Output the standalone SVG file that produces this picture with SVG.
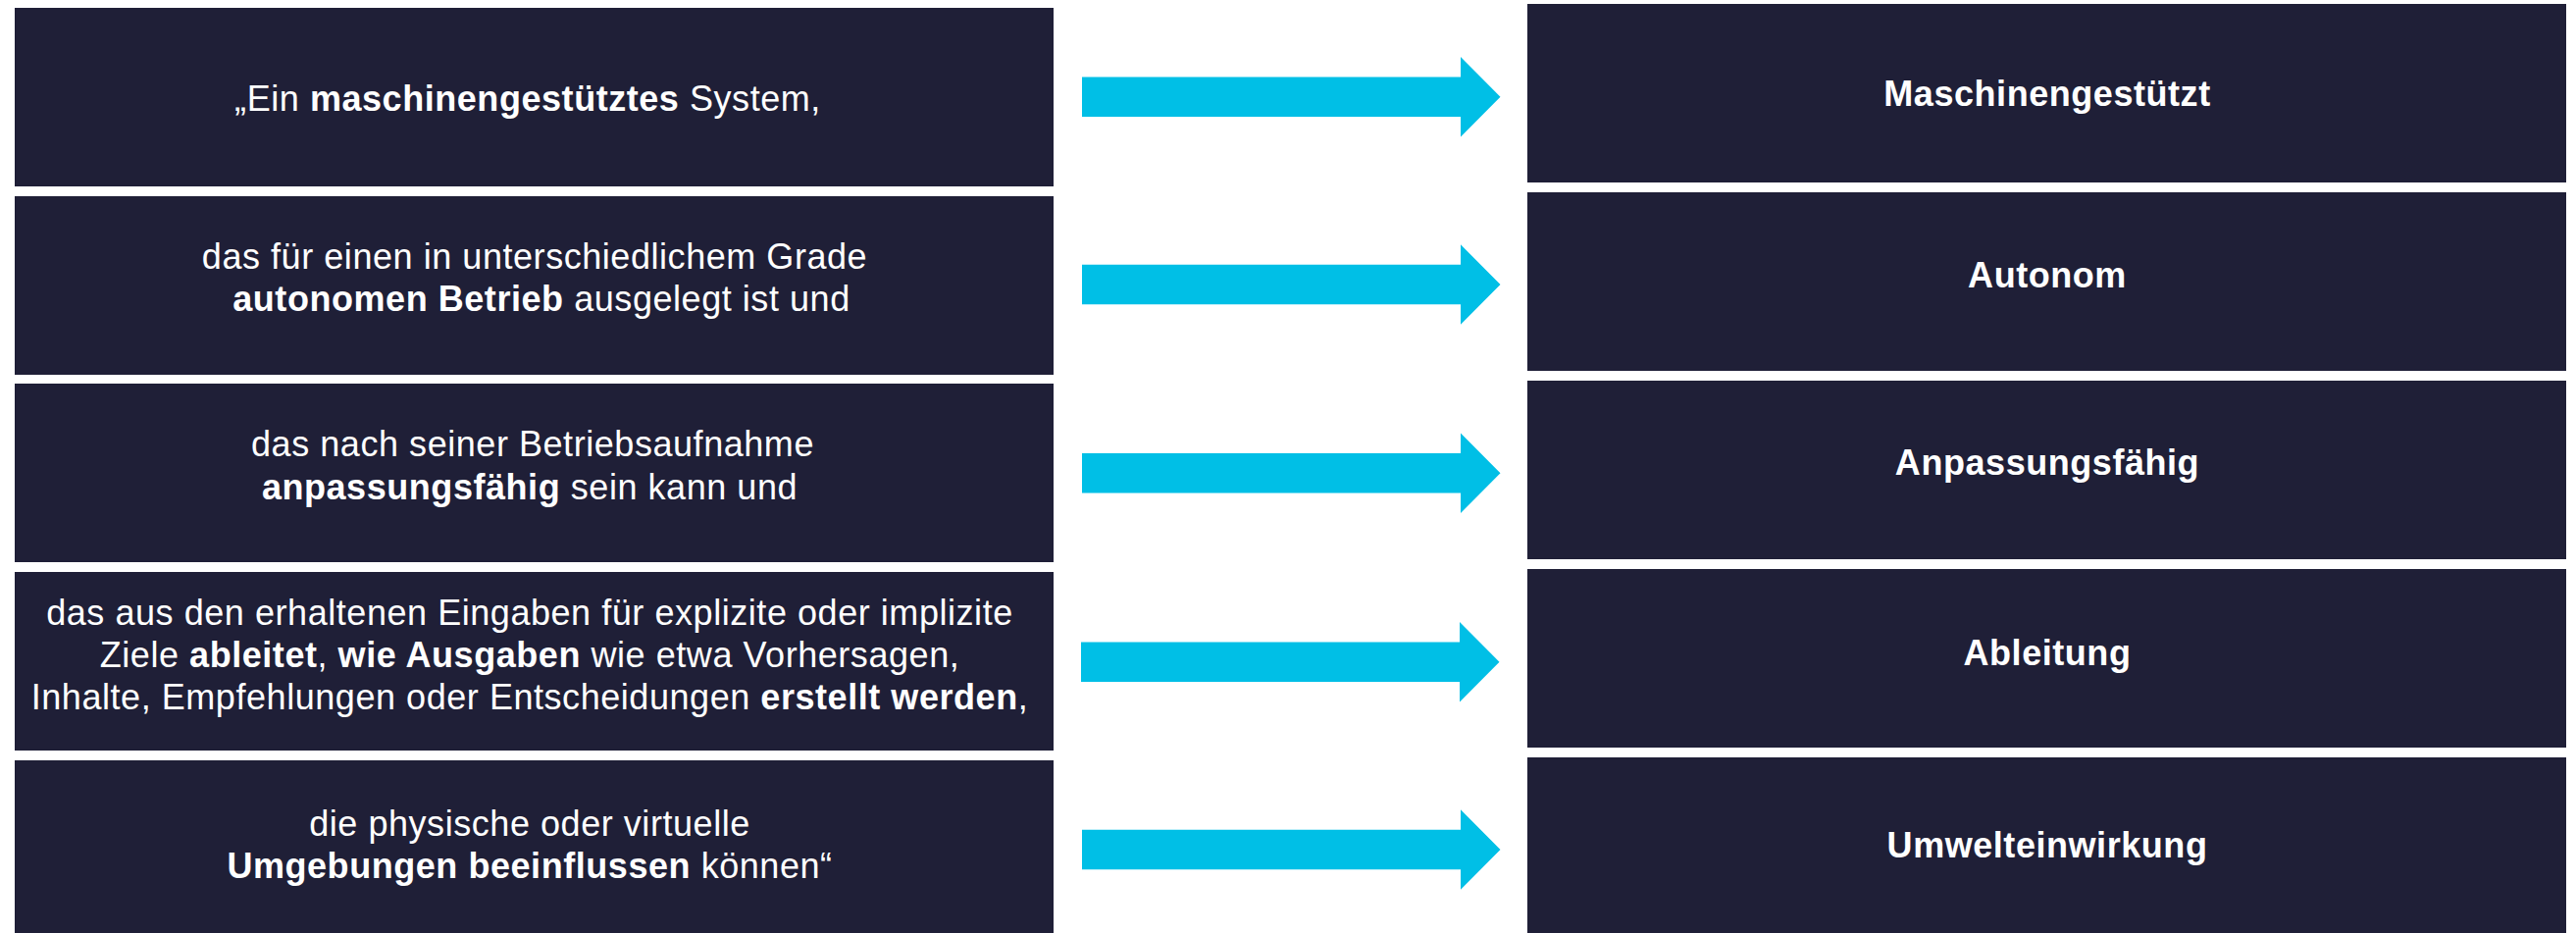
<svg xmlns="http://www.w3.org/2000/svg" xmlns:xlink="http://www.w3.org/1999/xlink" width="2626" height="951" viewBox="0 0 2626 951">
<style>
.box{fill:#1F1F37}
.t{font-family:"Liberation Sans",Arial,sans-serif;font-size:36px;fill:#FFFFFF;text-anchor:middle;letter-spacing:0.55px}
.b{font-weight:bold}
.arr{fill:#00BFE6}
</style>
<defs>
<path id="arrow" d="M0,-20.3 H386 V-40.7 L426.5,0 L386,40.7 V20.3 H0 Z"/>
</defs>
<rect width="2626" height="951" fill="#FFFFFF"/>
<g id="left1"><rect class="box" x="15" y="8" width="1059" height="182"/>
<text class="t" x="538" y="112.7">„Ein <tspan class="b">maschinengestütztes</tspan> System,</text></g>
<g id="left2"><rect class="box" x="15" y="200" width="1059" height="182"/>
<text class="t" x="545" y="273.5">das für einen in unterschiedlichem Grade</text>
<text class="t" x="552" y="317.3"><tspan class="b">autonomen Betrieb</tspan> ausgelegt ist und</text></g>
<g id="left3"><rect class="box" x="15" y="391" width="1059" height="182"/>
<text class="t" x="543" y="465">das nach seiner Betriebsaufnahme</text>
<text class="t" x="540" y="509"><tspan class="b">anpassungsfähig</tspan> sein kann und</text></g>
<g id="left4"><rect class="box" x="15" y="583" width="1059" height="182"/>
<text class="t" x="540" y="637">das aus den erhaltenen Eingaben für explizite oder implizite</text>
<text class="t" x="540" y="680">Ziele <tspan class="b">ableitet</tspan>, <tspan class="b">wie Ausgaben</tspan> wie etwa Vorhersagen,</text>
<text class="t" x="540" y="723">Inhalte, Empfehlungen oder Entscheidungen <tspan class="b">erstellt werden</tspan>,</text></g>
<g id="left5"><rect class="box" x="15" y="775" width="1059" height="182"/>
<text class="t" x="540" y="851.7">die physische oder virtuelle</text>
<text class="t" x="540" y="895"><tspan class="b">Umgebungen beeinflussen</tspan> können“</text></g>
<g id="connectors">
<use xlink:href="#arrow" class="arr" x="1103" y="98.7"/>
<use xlink:href="#arrow" class="arr" x="1103" y="290"/>
<use xlink:href="#arrow" class="arr" x="1103" y="482.3"/>
<use xlink:href="#arrow" class="arr" x="1102" y="674.7"/>
<use xlink:href="#arrow" class="arr" x="1103" y="866"/>
</g>
<g id="right1"><rect class="box" x="1557" y="4" width="1059" height="182"/>
<text class="t b" x="2087" y="108.3">Maschinengestützt</text></g>
<g id="right2"><rect class="box" x="1557" y="196" width="1059" height="182"/>
<text class="t b" x="2087" y="292.7">Autonom</text></g>
<g id="right3"><rect class="box" x="1557" y="388" width="1059" height="182"/>
<text class="t b" x="2087" y="484">Anpassungsfähig</text></g>
<g id="right4"><rect class="box" x="1557" y="580" width="1059" height="182"/>
<text class="t b" x="2087" y="678">Ableitung</text></g>
<g id="right5"><rect class="box" x="1557" y="772" width="1059" height="182"/>
<text class="t b" x="2087" y="874">Umwelteinwirkung</text></g>
</svg>
